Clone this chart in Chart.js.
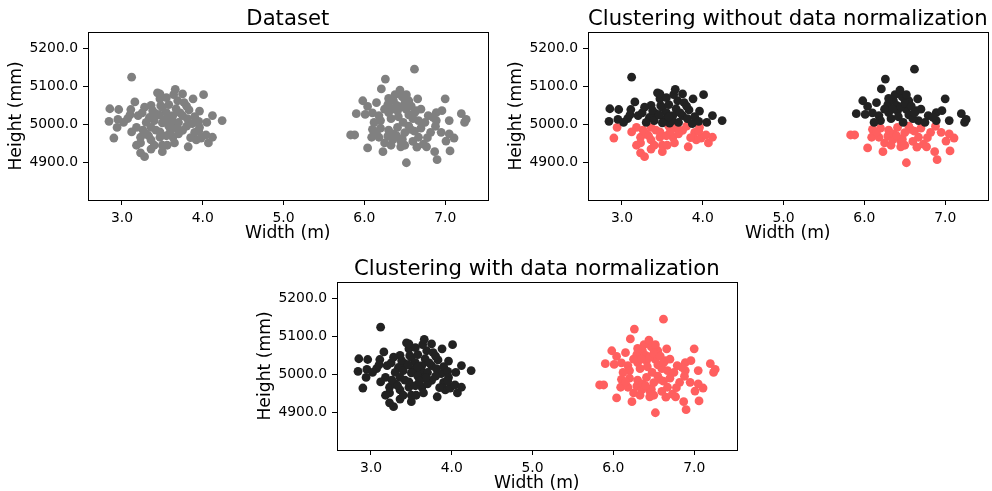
<!DOCTYPE html>
<html>
<head>
<meta charset="utf-8">
<script src="https://cdn.jsdelivr.net/npm/chart.js@4/dist/chart.umd.min.js"></script>
<style>
  html, body { margin: 0; padding: 0; width: 992px; height: 491px; overflow: hidden; background: #fff; }
  .box { position: absolute; width: 492px; height: 248px; }
</style>
</head>
<body>
<div class="box" style="left:0px;top:0px;"><canvas id="c1"></canvas></div>
<div class="box" style="left:500px;top:0px;"><canvas id="c2"></canvas></div>
<div class="box" style="left:249px;top:250px;"><canvas id="c3"></canvas></div>
<script>
// ---- data (x = width in m, y = height in mm) ----
const titles = ['Dataset', 'Clustering without data normalization', 'Clustering with data normalization'];
const xLabel = 'Width (m)';
const yLabel = 'Height (mm)';
const xTicks = [3, 4, 5, 6, 7];
const yTicks = [4900, 5000, 5100, 5200];

// left group, upper part
const leftUpper = [[3.12,5124],[3.44,5083],[3.47,5067],[3.16,5059],[2.85,5041],[2.96,5039],[3.11,5039],[2.84,5008],[2.95,5013],[3.07,5015],
  [3.20,5023],[3.34,5018],[3.42,5028],[3.48,5049],[3.47,5080],[3.75,5080],[3.69,5062],[3.77,5057],[3.88,5067],[4.01,5078],
  [3.50,5044],[3.55,5031],[3.67,5041],[3.63,5023],[3.75,5023],[4.12,5023],[4.24,5010],[3.59,5003],[3.81,5015],[3.87,5002],
  [3.38,5036],[3.52,5012],[3.58,5052],[3.30,5005],[3.40,5010],[3.62,5010],[3.70,5005],[3.72,5030],[3.90,5020],[3.95,5008],
  [3.46,5025],[3.55,5070],[3.64,5078],[3.25,5030],[3.02,5005],[3.36,5050],[3.83,5038],[3.96,5035],[4.05,5005],[3.10,5025],
  [3.66,5092],[3.80,5048],[3.58,5020],[3.28,5045],[3.50,5004]];
// left group, lower part
const leftLower = [[2.94,4992],[3.18,4992],[3.36,4992],[3.63,4990],[3.96,4992],[2.90,4964],[3.23,4966],[3.23,4951],[3.36,4959],[3.47,4966],
  [3.47,4980],[3.23,4925],[3.28,4915],[3.36,4935],[3.50,4928],[3.50,4945],[3.63,4966],[3.65,4951],[3.75,4984],[3.82,4941],
  [3.92,4959],[3.98,4964],[4.04,4972],[4.07,4951],[4.12,4966],[3.90,4979],[3.30,4975],[3.42,4985],[3.55,4970],[3.58,4995],
  [3.70,4975],[3.80,4995],[3.26,4985],[3.40,4945],[3.56,4945],[3.68,4992],[3.85,4965],[3.12,4980],[3.33,4970],[3.60,4982],
  [3.95,4982],[3.18,4945]];
// right group, upper part
const rightUpper = [[6.26,5119],[6.21,5093],[5.98,5062],[6.04,5047],[6.15,5057],[5.90,5028],[6.01,5026],[6.18,5023],[6.29,5052],[6.36,5062],
  [6.47,5072],[6.30,5031],[6.41,5036],[6.62,5145],[6.55,5062],[6.66,5067],[7.00,5067],[6.52,5039],[6.64,5036],[6.79,5023],
  [6.89,5031],[6.96,5036],[7.20,5028],[7.26,5013],[6.67,5010],[6.89,5010],[6.40,5050],[6.45,5045],[6.50,5055],[6.35,5040],
  [6.58,5048],[6.25,5040],[6.33,5015],[6.42,5020],[6.48,5005],[6.55,5025],[6.60,5015],[6.70,5040],[6.75,5005],[6.20,5010],
  [6.10,5030],[6.38,5078],[6.44,5090],[6.85,5018],[7.05,5010],[6.52,5078],[6.30,5068],[7.24,5005],[6.12,5005],[6.62,5030]];
// right group, lower part
const rightLower = [[5.83,4972],[5.88,4972],[6.10,4987],[6.09,4966],[6.18,4966],[6.29,4969],[6.25,4951],[6.35,4959],[6.41,4992],[6.45,4956],
  [6.45,4941],[6.04,4938],[6.23,4928],[6.52,4899],[6.57,4987],[6.67,4966],[6.73,4948],[6.77,4941],[6.82,4979],[6.95,4979],
  [7.01,4956],[7.11,4964],[7.06,4930],[6.87,4928],[6.90,4907],[6.47,4961],[6.30,4985],[6.36,4975],[6.50,4978],[6.55,4995],
  [6.62,4982],[6.70,4990],[6.60,4955],[6.40,4970],[6.20,4990],[6.15,4980],[6.65,4940],[6.88,4995],[6.78,4965],[6.50,4945],
  [7.05,4975],[6.33,4945]];

const GRAY = '#808080', BLACK = '#222222', RED = '#ff5f5f';
const toXY = arr => arr.map(p => ({x: p[0], y: p[1]}));

const frame = {
  id: 'frame',
  afterDraw(chart) {
    const a = chart.chartArea, ctx = chart.ctx;
    ctx.save();
    ctx.strokeStyle = '#000';
    ctx.lineWidth = 1;
    ctx.strokeRect(Math.round(a.left) + 0.5, Math.round(a.top) + 0.5, Math.round(a.right - a.left), Math.round(a.bottom - a.top));
    ctx.restore();
  }
};

function makeChart(id, title, datasets) {
  const fam = "'DejaVu Sans', sans-serif";
  return new Chart(document.getElementById(id), {
    type: 'scatter',
    data: { datasets },
    options: {
      responsive: true, maintainAspectRatio: false, animation: false, devicePixelRatio: 1,
      layout: { padding: { left: 0, right: 1, top: 0, bottom: 0 } },
      plugins: {
        legend: { display: false }, tooltip: { enabled: false },
        title: { display: true, fullSize: false, text: title, color: '#000', font: { family: fam, size: 21.2, weight: 'normal' },
                 padding: { top: 6.5, bottom: 0 } }
      },
      elements: { point: { radius: 4.4, borderWidth: 0, hoverRadius: 4.4 } },
      scales: {
        x: {
          type: 'linear', min: 2.58, max: 7.525,
          afterBuildTicks: s => { s.ticks = xTicks.map(v => ({ value: v })); },
          afterFit: s => { s.height = 48; },
          ticks: { color: '#000', font: { family: fam, size: 13.9 }, padding: 5, maxRotation: 0,
                   callback: v => Number(v).toFixed(1) },
          grid: { drawOnChartArea: false, drawTicks: true, tickLength: 5, color: '#000', lineWidth: 1 },
          border: { display: false },
          title: { display: true, text: xLabel, color: '#000', font: { family: fam, size: 17.2 }, padding: { top: 0, bottom: 4 } }
        },
        y: {
          type: 'linear', min: 4801, max: 5243,
          afterBuildTicks: s => { s.ticks = yTicks.map(v => ({ value: v })); },
          afterFit: s => { s.width = 88; },
          ticks: { color: '#000', font: { family: fam, size: 13.9 }, padding: 5,
                   callback: v => Number(v).toFixed(1) },
          grid: { drawOnChartArea: false, drawTicks: true, tickLength: 5, color: '#000', lineWidth: 1 },
          border: { display: false },
          title: { display: true, text: yLabel, color: '#000', font: { family: fam, size: 17.2 }, padding: { top: 6, bottom: 0 } }
        }
      }
    },
    plugins: [frame]
  });
}

const allPts = leftUpper.concat(leftLower, rightUpper, rightLower);
makeChart('c1', titles[0], [
  { data: toXY(allPts), backgroundColor: GRAY }
]);
makeChart('c2', titles[1], [
  { data: toXY(leftUpper.concat(rightUpper)), backgroundColor: BLACK },
  { data: toXY(leftLower.concat(rightLower)), backgroundColor: RED }
]);
makeChart('c3', titles[2], [
  { data: toXY(leftUpper.concat(leftLower)), backgroundColor: BLACK },
  { data: toXY(rightUpper.concat(rightLower)), backgroundColor: RED }
]);
</script>
</body>
</html>
